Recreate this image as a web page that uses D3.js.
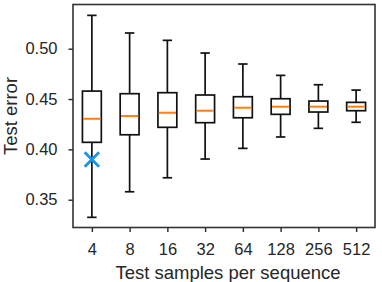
<!DOCTYPE html>
<html>
<head>
<meta charset="utf-8">
<script src="https://cdn.jsdelivr.net/npm/d3@7"></script>
<style>
  body { margin: 0; background: #fff; }
  svg text { font-family: "Liberation Sans", Arial, sans-serif; fill: #262626; }
</style>
</head>
<body>
<script>
var width = 382,
    height = 282;

// one box per test sample count
var categories = ['4', '8', '16', '32', '64', '128', '256', '512'];
var whiskerLow  = [0.3325, 0.3579, 0.3718, 0.3904, 0.4010, 0.4123, 0.4209, 0.4269];
var q1          = [0.4070, 0.4145, 0.4219, 0.4265, 0.4314, 0.4348, 0.4371, 0.4384];
var medians     = [0.4304, 0.4331, 0.4364, 0.4384, 0.4414, 0.4424, 0.4424, 0.4424];
var q3          = [0.4579, 0.4553, 0.4563, 0.4540, 0.4523, 0.4503, 0.4480, 0.4467];
var whiskerHigh = [0.5331, 0.5156, 0.5083, 0.4957, 0.4848, 0.4735, 0.4642, 0.4589];
var markerCat = '4', markerValue = 0.39;
var yTicks = [0.35, 0.40, 0.45, 0.50];

// plot area (window.top is reserved, so prefixed names)
var pLeft = 73, pRight = 375, pTop = 4.5, pBottom = 227.5;

var svg = d3.select('body').append('svg')
    .attr('width', width)
    .attr('height', height);

var x = d3.scalePoint()
    .domain(categories)
    .range([pLeft, pRight])
    .padding(0.5);

var y = d3.scaleLinear()
    .domain([0.3224, 0.5439])
    .range([pBottom, pTop]);

var step = x.step(),
    boxW = step * 0.5,
    capW = boxW * 0.5,
    lw = 1.7;

var boxes = categories.map(function (c, i) {
    return { cat: c, lo: whiskerLow[i], q1: q1[i], med: medians[i], q3: q3[i], hi: whiskerHigh[i] };
});

var g = svg.selectAll('g.box')
    .data(boxes)
    .enter().append('g')
    .attr('class', 'box')
    .attr('transform', function (d) { return 'translate(' + x(d.cat) + ',0)'; });

// whiskers
g.append('line')
    .attr('x1', 0).attr('x2', 0)
    .attr('y1', function (d) { return y(d.hi); })
    .attr('y2', function (d) { return y(d.q3); })
    .attr('stroke', '#111').attr('stroke-width', lw);
g.append('line')
    .attr('x1', 0).attr('x2', 0)
    .attr('y1', function (d) { return y(d.q1); })
    .attr('y2', function (d) { return y(d.lo); })
    .attr('stroke', '#111').attr('stroke-width', lw);
// caps
['hi', 'lo'].forEach(function (k) {
    g.append('line')
        .attr('x1', -capW / 2).attr('x2', capW / 2)
        .attr('y1', function (d) { return y(d[k]); })
        .attr('y2', function (d) { return y(d[k]); })
        .attr('stroke', '#111').attr('stroke-width', lw);
});
// box
g.append('rect')
    .attr('x', -boxW / 2)
    .attr('width', boxW)
    .attr('y', function (d) { return y(d.q3); })
    .attr('height', function (d) { return y(d.q1) - y(d.q3); })
    .attr('fill', 'none')
    .attr('stroke', '#111').attr('stroke-width', lw);
// median
g.append('line')
    .attr('x1', -boxW / 2 + 0.8).attr('x2', boxW / 2 - 0.8)
    .attr('y1', function (d) { return y(d.med); })
    .attr('y2', function (d) { return y(d.med); })
    .attr('stroke', '#ff7f0e').attr('stroke-width', 2);

// blue x marker
var mx = x(markerCat), my = y(markerValue), ms = 7.2;
svg.append('path')
    .attr('d', 'M' + (mx - ms) + ',' + (my - ms) + 'L' + (mx + ms) + ',' + (my + ms) +
               'M' + (mx - ms) + ',' + (my + ms) + 'L' + (mx + ms) + ',' + (my - ms))
    .attr('stroke', '#1795e6')
    .attr('stroke-width', 2.8)
    .attr('fill', 'none');

// axes
var xAxis = svg.append('g')
    .attr('transform', 'translate(0,' + pBottom + ')')
    .call(d3.axisBottom(x).tickSize(4.5).tickPadding(11));
var yAxis = svg.append('g')
    .attr('transform', 'translate(' + pLeft + ',0)')
    .call(d3.axisLeft(y).tickValues(yTicks).tickFormat(d3.format('.2f')).tickSize(4.5).tickPadding(11));

[xAxis, yAxis].forEach(function (a) {
    a.select('.domain').remove();
    a.selectAll('.tick line').attr('stroke', '#262626').attr('stroke-width', 1.4);
    a.selectAll('.tick text').style('font-size', '16.5px').attr('fill', '#262626')
        .style('font-family', '"Liberation Sans", Arial, sans-serif');
});

// frame
svg.append('rect')
    .attr('x', pLeft).attr('y', pTop)
    .attr('width', pRight - pLeft).attr('height', pBottom - pTop)
    .attr('fill', 'none')
    .attr('stroke', '#333').attr('stroke-width', 1.6);

svg.append('text')
    .attr('x', (pLeft + pRight) / 2 + 4)
    .attr('y', 278.5)
    .attr('text-anchor', 'middle')
    .style('font-size', '18.5px')
    .text('Test samples per sequence');

svg.append('text')
    .attr('transform', 'translate(16.5,' + ((pTop + pBottom) / 2) + ') rotate(-90)')
    .attr('text-anchor', 'middle')
    .style('font-size', '18.5px')
    .text('Test error');
</script>
</body>
</html>
